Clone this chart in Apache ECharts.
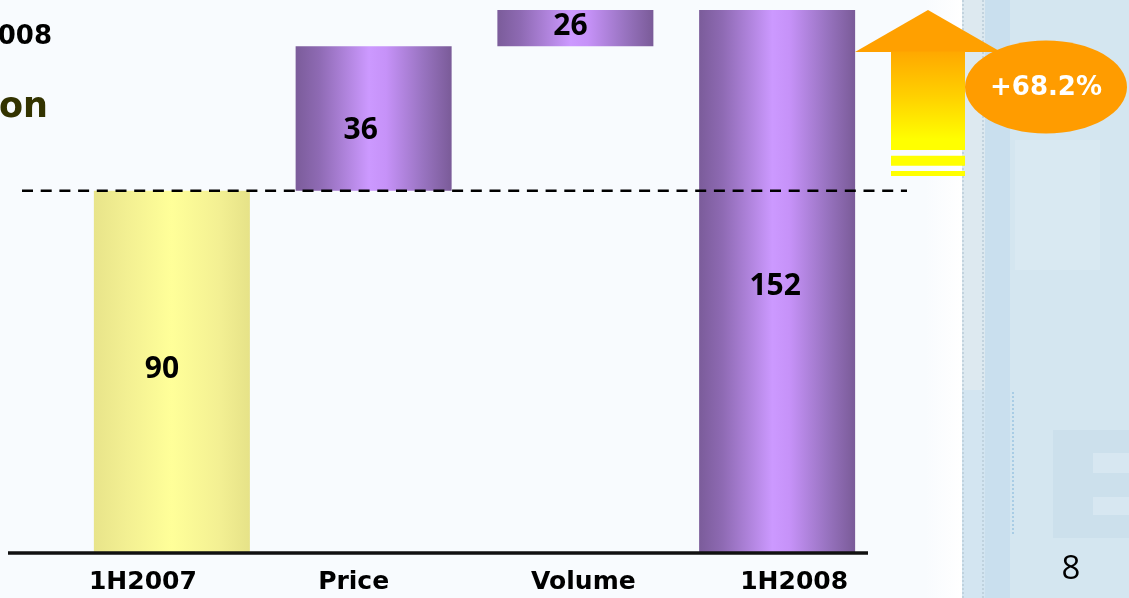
<!DOCTYPE html>
<html>
<head>
<meta charset="utf-8">
<script src="https://cdn.jsdelivr.net/npm/echarts@6/dist/echarts.min.js"></script>
<style>
html,body{margin:0;padding:0;background:#F8FBFE;}
#c{width:1129px;height:598px;}
</style>
</head>
<body>
<div id="c"></div>
<script>
// ---- data ----
const categories = ['1H2007', 'Price', 'Volume', '1H2008'];
const values = [90, 36, 26, 152];
const isTotal = [true, false, false, true];
const referenceValue = 90;          // dashed reference line (1H2007 level)
const growthLabel = '+68.2%';
const titleFragment = '008';
const subtitleFragment = 'on';
const pageNumber = '8';

// waterfall bases derived from the values
const bases = [];
let running = 0;
values.forEach((v, i) => {
  if (isTotal[i]) { bases.push(0); running = v; }
  else { bases.push(running); running += v; }
});

// ---- styles ----
const purple = {
  type: 'linear', x: 0, y: 0, x2: 1, y2: 0,
  colorStops: [
    { offset: 0, color: '#7B5C9A' },
    { offset: 0.15, color: '#8E6AB3' },
    { offset: 0.47, color: '#CC99FF' },
    { offset: 0.58, color: '#C692F8' },
    { offset: 0.82, color: '#9873C0' },
    { offset: 1, color: '#7A5B98' }
  ]
};
const yellow = {
  type: 'linear', x: 0, y: 0, x2: 1, y2: 0,
  colorStops: [
    { offset: 0, color: '#E8E48A' },
    { offset: 0.2, color: '#F2EF92' },
    { offset: 0.5, color: '#FFFF99' },
    { offset: 0.8, color: '#F3F093' },
    { offset: 1, color: '#E6E288' }
  ]
};
const labelOffsets = [[-10, -2], [-13, 12], [-5, -2], [-2, 5]];
const axisLabelPads = [[0, 58, 0, 0], [0, 40, 0, 0], [0, 0, 0, 16], [0, 0, 0, 34]];

const chart = echarts.init(document.getElementById('c'), null, { renderer: 'canvas' });

const richLabels = {};
axisLabelPads.forEach((p, i) => {
  richLabels['l' + i] = {
    fontFamily: 'DejaVu Sans', fontWeight: 'bold', fontSize: 25, color: '#000', padding: p
  };
});

const option = {
  backgroundColor: '#F8FBFE',
  animation: false,
  grid: { left: 71, right: 251, top: 10, bottom: 46, containLabel: false },
  xAxis: {
    type: 'category',
    data: categories,
    axisLine: { show: false },
    axisTick: { show: false },
    splitLine: { show: false },
    axisLabel: {
      interval: 0,
      margin: 18,
      formatter: (v, i) => '{l' + i + '|' + v + '}',
      rich: richLabels
    }
  },
  yAxis: {
    type: 'value', min: 0, max: 135, show: false,
    splitLine: { show: false }
  },
  series: [
    {
      type: 'bar', stack: 'w', barWidth: 156, silent: true,
      itemStyle: { color: 'rgba(0,0,0,0)' },
      data: bases
    },
    {
      type: 'bar', stack: 'w', barWidth: 156, clip: true,
      data: values.map((v, i) => ({
        value: v,
        itemStyle: { color: i === 0 ? yellow : purple },
        label: { offset: labelOffsets[i] }
      })),
      label: {
        show: true, position: 'inside',
        fontFamily: 'Open Sans', fontWeight: 'bold', fontSize: 30, color: '#000'
      },
      z: 2
    }
  ]
};
chart.setOption(option);

const y0 = chart.convertToPixel({ yAxisIndex: 0 }, 0);
const yRef = chart.convertToPixel({ yAxisIndex: 0 }, referenceValue);

chart.setOption({
  graphic: [
    // right decorative panel
    { type: 'rect', z: -10, shape: { x: 925, y: 0, width: 37, height: 598 },
      style: { fill: { type: 'linear', x: 0, y: 0, x2: 1, y2: 0,
        colorStops: [{ offset: 0, color: '#F8FBFE' }, { offset: 1, color: '#FFFFFF' }] } } },
    { type: 'rect', z: -10, shape: { x: 962, y: 0, width: 23, height: 598 }, style: { fill: '#DDE9F0' } },
    { type: 'rect', z: -10, shape: { x: 962, y: 390, width: 23, height: 208 }, style: { fill: '#D3E5F1' } },
    { type: 'line', z: -9, shape: { x1: 963, y1: 0, x2: 963, y2: 598 }, style: { stroke: '#B9CCD8', lineWidth: 1.5, lineDash: [2, 2] } },
    { type: 'line', z: -9, shape: { x1: 983, y1: 0, x2: 983, y2: 598 }, style: { stroke: '#B9CCD8', lineWidth: 1.5, lineDash: [2, 2] } },
    { type: 'rect', z: -10, shape: { x: 985, y: 0, width: 25, height: 598 }, style: { fill: '#C9DFEE' } },
    { type: 'rect', z: -10, shape: { x: 1010, y: 0, width: 119, height: 598 }, style: { fill: '#D4E6F0' } },
    { type: 'rect', z: -9, shape: { x: 1015, y: 140, width: 85, height: 130 }, style: { fill: '#D9E9F2' } },
    { type: 'line', z: -9, shape: { x1: 1013, y1: 392, x2: 1013, y2: 535 }, style: { stroke: '#A9CDE5', lineWidth: 2, lineDash: [2, 2] } },
    { type: 'rect', z: -9, shape: { x: 1053, y: 430, width: 76, height: 108 }, style: { fill: '#CCE0EC' } },
    { type: 'rect', z: -8, shape: { x: 1093, y: 453, width: 36, height: 20 }, style: { fill: '#D7E7F1' } },
    { type: 'rect', z: -8, shape: { x: 1093, y: 497, width: 36, height: 18 }, style: { fill: '#D7E7F1' } },

    // axis baseline
    { type: 'line', z: 5, shape: { x1: 8, y1: y0 + 1, x2: 868, y2: y0 + 1 },
      style: { stroke: '#111', lineWidth: 3.5 } },
    // dashed reference line
    { type: 'line', z: 5, shape: { x1: 22, y1: yRef, x2: 907, y2: yRef },
      style: { stroke: '#000', lineWidth: 2.5, lineDash: [11, 7.7] } },

    // growth arrow
    { type: 'polygon', z: 6, shape: { points: [[855, 52], [928, 10], [1001, 52]] },
      style: { fill: '#FFA000' } },
    { type: 'rect', z: 6, shape: { x: 891, y: 51.5, width: 74, height: 98.5 },
      style: { fill: { type: 'linear', x: 0, y: 0, x2: 0, y2: 1,
        colorStops: [{ offset: 0, color: '#FFA800' }, { offset: 0.45, color: '#FFD000' }, { offset: 0.9, color: '#FFFF00' }, { offset: 1, color: '#FFFF00' }] } } },
    { type: 'rect', z: 6, shape: { x: 891, y: 155.7, width: 74, height: 10 }, style: { fill: '#FFFF00' } },
    { type: 'rect', z: 6, shape: { x: 891, y: 171, width: 74, height: 5 }, style: { fill: '#FFFF00' } },
    { type: 'ellipse', z: 7, shape: { cx: 1046, cy: 87, rx: 81, ry: 46.5 }, style: { fill: '#FF9C00' } },
    { type: 'text', z: 8, x: 1046, y: 88,
      style: { text: growthLabel, fill: '#FFFFFF', font: 'bold 26px "DejaVu Sans"', align: 'center', verticalAlign: 'middle' } },

    // cropped title fragments
    { type: 'text', z: 8, x: 52, y: 37,
      style: { text: titleFragment, fill: '#000', font: 'bold 26px "DejaVu Sans"', align: 'right', verticalAlign: 'middle' } },
    { type: 'text', z: 8, x: 48, y: 108,
      style: { text: subtitleFragment, fill: '#333300', font: 'bold 35px "DejaVu Sans"', align: 'right', verticalAlign: 'middle' } },
    // page number
    { type: 'text', z: 8, x: 1071, y: 570,
      style: { text: pageNumber, fill: '#000', font: '33px "Open Sans"', align: 'center', verticalAlign: 'middle' } }
  ]
});
</script>
</body>
</html>
